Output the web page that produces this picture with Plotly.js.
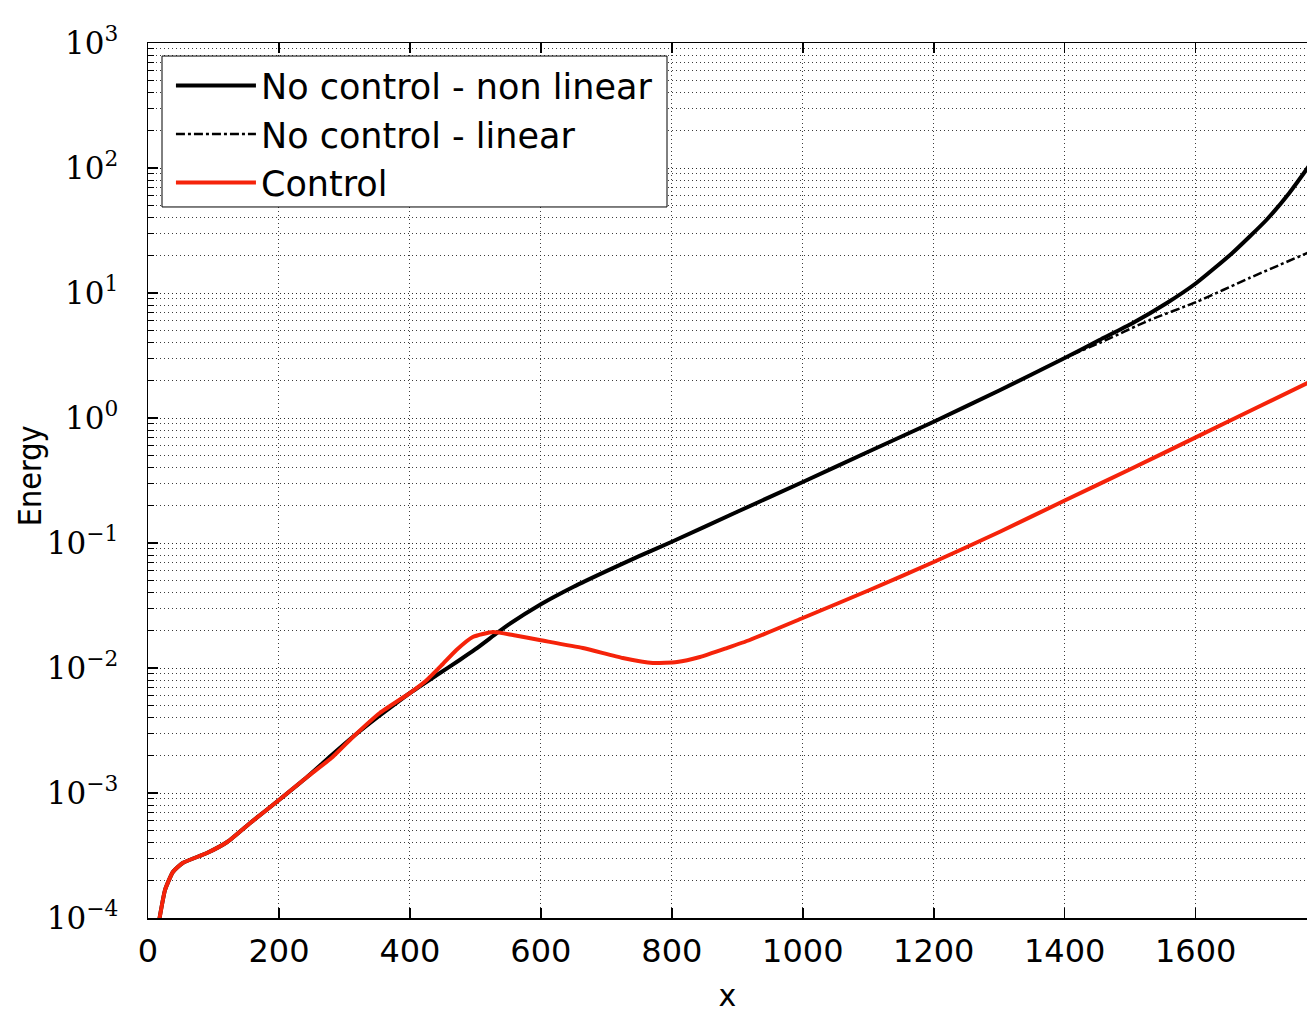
<!DOCTYPE html>
<html>
<head>
<meta charset="utf-8">
<script src="https://cdn.plot.ly/plotly-3.0.1.min.js"></script>
<style>html,body{margin:0;padding:0;background:#fff;}#chart{width:1307px;height:1015px;}</style>
</head>
<body>
<div id="chart"></div>
<script>
// ---- data ----
var xNonLinear = [16, 18, 26, 38, 53, 90, 121, 156, 200, 243, 282, 313, 354, 400, 440, 476, 500, 533, 550, 600, 650, 700, 750, 800, 900, 1000, 1100, 1200, 1300, 1400, 1453, 1504, 1556, 1601, 1656, 1708, 1743, 1775];
var eNonLinear = [8.91e-5, 1.023e-4, 1.675e-4, 2.333e-4, 2.754e-4, 3.311e-4, 4.055e-4, 5.754e-4, 8.79e-4, 1.343e-3, 2.042e-3, 2.818e-3, 4.169e-3, 6.31e-3, 8.71e-3, 0.01159, 0.01413, 0.01905, 0.02213, 0.03236, 0.04467, 0.05957, 0.07852, 0.1023, 0.1778, 0.3076, 0.537, 0.9333, 1.66, 3.02, 4.207, 5.754, 8.318, 12.02, 20.89, 38.37, 63.1, 107.2];

var xLinear = [16, 18, 26, 38, 53, 90, 121, 156, 200, 243, 282, 313, 354, 400, 440, 476, 500, 533, 550, 600, 650, 700, 750, 800, 900, 1000, 1100, 1200, 1300, 1400, 1453, 1530, 1601, 1682, 1775];
var eLinear = [8.91e-5, 1.023e-4, 1.675e-4, 2.333e-4, 2.754e-4, 3.311e-4, 4.055e-4, 5.754e-4, 8.79e-4, 1.343e-3, 2.042e-3, 2.818e-3, 4.169e-3, 6.31e-3, 8.71e-3, 0.01159, 0.01413, 0.01905, 0.02213, 0.03236, 0.04467, 0.05957, 0.07852, 0.1023, 0.1778, 0.3076, 0.537, 0.9333, 1.66, 3.02, 3.981, 6.081, 8.472, 13.18, 21.38];

var xControl = [16, 18, 26, 38, 53, 90, 121, 156, 200, 243, 282, 313, 354, 400, 425, 450, 471, 496, 527, 557, 598, 664, 725, 771, 808, 843, 884, 919, 1000, 1102, 1200, 1301, 1400, 1500, 1600, 1700, 1775];
var eControl = [8.91e-5, 1.023e-4, 1.675e-4, 2.333e-4, 2.754e-4, 3.311e-4, 4.055e-4, 5.754e-4, 8.79e-4, 1.343e-3, 1.941e-3, 2.805e-3, 4.365e-3, 6.31e-3, 7.94e-3, 0.01072, 0.01393, 0.0177, 0.01941, 0.01837, 0.01675, 0.01445, 0.01202, 0.01096, 0.01117, 0.01225, 0.01445, 0.01675, 0.02512, 0.04207, 0.07047, 0.123, 0.2188, 0.389, 0.6998, 1.259, 1.95];

var seriesNames = ['No control - non linear', 'No control - linear', 'Control'];
var xTickVals = [0, 200, 400, 600, 800, 1000, 1200, 1400, 1600];
var yTickVals = [1e-4, 1e-3, 1e-2, 1e-1, 1, 10, 100, 1000];
var yTickText = ['10<sup>\u22124</sup>', '10<sup>\u22123</sup>', '10<sup>\u22122</sup>', '10<sup>\u22121</sup>',
                 '10<sup>0</sup>', '10<sup>1</sup>', '10<sup>2</sup>', '10<sup>3</sup>'];
var xTitle = 'x';
var yTitle = 'Energy';

var FONT = 'DejaVu Sans, Verdana, sans-serif';
var gridCol = 'rgba(40,40,40,0.9)';
var gridDash = '1px,3px';

var traces = [
  {x: xNonLinear, y: eNonLinear, name: seriesNames[0], mode: 'lines', legendgroup: 'a',
   line: {color: '#000', width: 4, shape: 'spline', smoothing: 0.5}},
  {x: xLinear, y: eLinear, name: seriesNames[1], mode: 'lines', legendgroup: 'b',
   line: {color: '#000', width: 2.5, dash: 'dashdot', shape: 'spline', smoothing: 0.5}},
  {x: xControl, y: eControl, name: seriesNames[2], mode: 'lines', legendgroup: 'c',
   line: {color: 'rgb(245,35,10)', width: 4, shape: 'spline', smoothing: 0.5}}
];

var layout = {
  width: 1307, height: 1015,
  margin: {l: 148, r: 0, t: 43, b: 97},
  paper_bgcolor: '#fff', plot_bgcolor: '#fff',
  font: {family: FONT, color: '#000', size: 30},
  showlegend: true,
  legend: {
    x: 0.0198, y: 0.985, xanchor: 'left', yanchor: 'top',
    bgcolor: 'rgba(0,0,0,0)', borderwidth: 0,
    font: {family: FONT, size: 35, color: '#000'},
    traceorder: 'grouped', tracegroupgap: 0, itemwidth: 80
  },
  shapes: [{
    type: 'rect', xref: 'paper', yref: 'paper', layer: 'above',
    x0: 0.01208, x1: 0.4478, y0: 0.8126, y1: 0.9851,
    fillcolor: '#fff', line: {color: '#000', width: 1}
  }],
  annotations: [{
    text: yTitle, xref: 'paper', yref: 'paper', x: -0.1018, y: 0.505,
    xanchor: 'center', yanchor: 'middle', textangle: -90, showarrow: false,
    font: {family: 'DejaVu Sans Condensed, DejaVu Sans, sans-serif', size: 32, color: '#000'}
  }],
  xaxis: {
    range: [0, 1770], tickvals: xTickVals, ticktext: xTickVals.map(String),
    showline: true, linecolor: '#000', linewidth: 1.5, mirror: 'ticks',
    ticks: 'inside', ticklen: 10, tickcolor: '#000', tickwidth: 1.5,
    showgrid: true, gridcolor: gridCol, griddash: gridDash, gridwidth: 1,
    zeroline: false, ticklabelstandoff: 4,
    tickfont: {family: FONT, size: 32},
    title: {text: xTitle, font: {family: FONT, size: 30}, standoff: 16}
  },
  yaxis: {
    type: 'log', range: [-4, 3], tickvals: yTickVals, ticktext: yTickText,
    showline: true, linecolor: '#000', linewidth: 1.5, mirror: false,
    ticks: 'inside', ticklen: 10, tickcolor: '#000', tickwidth: 1.5,
    showgrid: true, gridcolor: gridCol, griddash: gridDash, gridwidth: 1,
    zeroline: false, ticklabelstandoff: 22,
    tickfont: {family: 'DejaVu Serif, serif', size: 31},
    minor: {dtick: 'D1', ticks: 'inside', ticklen: 6, tickcolor: '#000', tickwidth: 1,
            showgrid: true, gridcolor: gridCol, griddash: gridDash, gridwidth: 1}
  }
};

Plotly.newPlot('chart', traces, layout, {displayModeBar: false, staticPlot: true});
</script>
</body>
</html>
